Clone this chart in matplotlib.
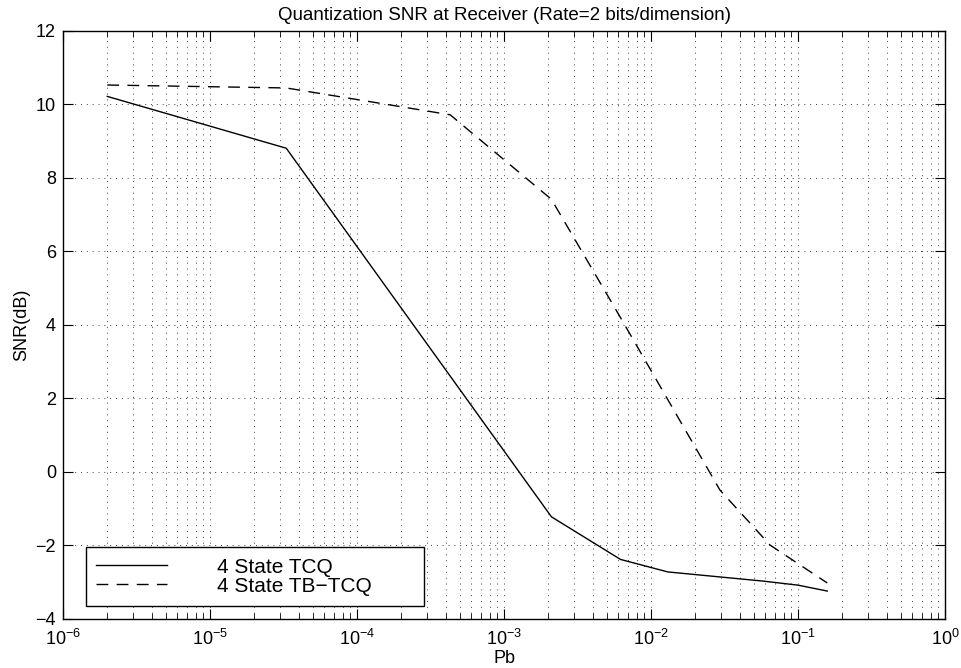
import matplotlib
matplotlib.use("Agg")
import matplotlib.pyplot as plt
import numpy as np
from matplotlib.ticker import LogLocator, NullFormatter

plt.rcParams['font.family'] = ['Liberation Sans', 'DejaVu Sans']
plt.rcParams['mathtext.default'] = 'regular'

# dữ liệu
pb_tcq = [2.0e-6, 3.3e-5, 2.1e-3, 6.2e-3, 1.3e-2, 5.8e-2, 1.0e-1, 1.58e-1]
snr_tcq = [10.22, 8.81, -1.22, -2.38, -2.72, -2.97, -3.08, -3.24]

pb_tb = [2.0e-6, 3.3e-5, 4.3e-4, 2.1e-3, 6.2e-3, 2.94e-2, 6.45e-2, 1.58e-1]
snr_tb = [10.53, 10.45, 9.72, 7.42, 4.2, -0.49, -1.99, -3.02]

labels = ['4 State TCQ', '4 State TB\u2212TCQ']

fig = plt.figure(figsize=(9.61, 6.68), dpi=100)
ax = fig.add_axes([0.0656, 0.0734, 0.9178, 0.8802])

ax.semilogx(pb_tcq, snr_tcq, color='black', linewidth=1.0, label=labels[0])
ax.semilogx(pb_tb, snr_tb, color='black', linewidth=1.0, dashes=(8.5, 6), label=labels[1])

ax.set_xlim(1e-6, 1)
ax.set_ylim(-4, 12)
ax.set_yticks(np.arange(-4, 13, 2))
ax.xaxis.set_major_locator(LogLocator(base=10, numticks=10))
ax.xaxis.set_minor_locator(LogLocator(base=10, subs=np.arange(2, 10), numticks=20))
ax.xaxis.set_minor_formatter(NullFormatter())

dots = (0, (1, 5))
ax.grid(True, which='major', axis='both', linestyle=dots, color='0.25', linewidth=0.7)
ax.grid(True, which='minor', axis='x', linestyle=dots, color='0.25', linewidth=0.7)

ax.tick_params(which='both', direction='in', top=True, right=True, labelsize=13)
ax.tick_params(which='major', length=7)
ax.tick_params(which='minor', length=4)
ax.tick_params(axis='x', which='major', pad=7)
ax.tick_params(axis='y', which='major', pad=5)
for s in ax.spines.values():
    s.set_linewidth(1.0)

ax.set_title('Quantization SNR at Receiver (Rate=2 bits/dimension)', fontsize=13.5, pad=8)
ax.set_xlabel('Pb', fontsize=13, labelpad=1)
ax.set_ylabel('SNR(dB)', fontsize=13, labelpad=4)

leg = ax.legend(loc='lower left', bbox_to_anchor=(0.0261, 0.0221, 0.383, 0.1), mode='expand',
                fontsize=15, frameon=True, fancybox=False, edgecolor='black', framealpha=1,
                handlelength=3.4, handletextpad=2.4, borderpad=0.5, labelspacing=0.0,
                borderaxespad=0)
leg.get_frame().set_linewidth(1.0)

fig.savefig('out.png', dpi=100)
